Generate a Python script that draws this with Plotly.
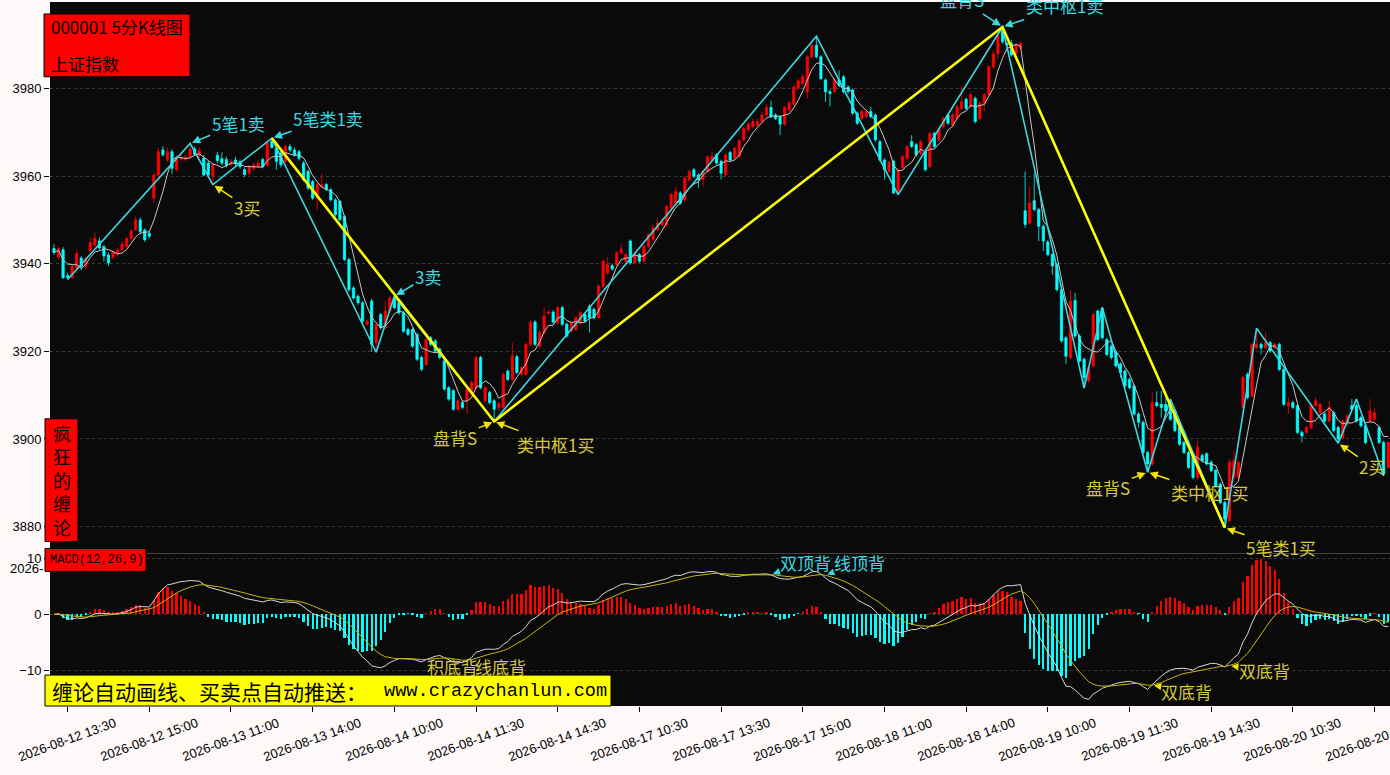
import pandas as pd
import plotly.graph_objects as go
from plotly.subplots import make_subplots

# 5 minute bars, index 0 = 2026-08-12 13:15
opens = [
    3943.5, 3941.5, 3943.2, 3937.3, 3936.9, 3939.0, 3941.3, 3939.4, 3943.0, 3944.3,
    3945.2, 3943.9, 3942.0, 3941.5, 3942.2, 3943.3, 3944.0, 3945.8, 3947.8, 3950.0,
    3947.7, 3947.0, 3955.0, 3960.3, 3966.0, 3963.8, 3965.6, 3961.5, 3963.9, 3963.8,
    3964.5, 3966.2, 3964.8, 3964.1, 3963.0, 3960.0, 3964.8, 3964.0, 3963.8, 3962.6,
    3963.7, 3963.3, 3961.5, 3960.7, 3961.8, 3962.3, 3963.8, 3962.5, 3968.0, 3966.4,
    3965.3, 3963.4, 3966.8, 3966.0, 3965.6, 3963.0, 3961.1, 3958.8, 3955.0, 3957.7,
    3958.1, 3956.9, 3954.6, 3954.3, 3950.8, 3941.0, 3934.5, 3932.6, 3931.1, 3926.2,
    3931.5, 3922.0, 3928.4, 3925.4, 3929.2, 3932.2, 3931.1, 3928.8, 3925.0, 3925.0,
    3923.9, 3918.6, 3917.0, 3923.1, 3922.4, 3920.5, 3917.8, 3911.7, 3911.0, 3906.8,
    3908.3, 3908.7, 3910.2, 3911.7, 3918.6, 3908.7, 3910.6, 3908.7, 3907.2, 3907.2,
    3915.5, 3913.6, 3918.8, 3914.8, 3914.8, 3921.6, 3926.7, 3921.2, 3924.3, 3928.7,
    3929.0, 3926.5, 3930.0, 3926.2, 3924.7, 3925.0, 3926.5, 3928.4, 3930.3, 3929.6,
    3927.7, 3934.9, 3937.9, 3939.6, 3939.8, 3942.5, 3940.6, 3945.2, 3940.2, 3942.1,
    3940.6, 3944.0, 3945.5, 3947.8, 3948.9, 3948.9, 3952.7, 3953.9, 3956.2, 3954.6,
    3959.2, 3961.5, 3960.3, 3959.2, 3961.1, 3963.7, 3964.9, 3963.4, 3960.3, 3965.4,
    3964.1, 3964.5, 3968.3, 3970.6, 3971.3, 3971.7, 3972.5, 3974.0, 3975.7, 3974.0,
    3973.6, 3971.9, 3975.1, 3976.5, 3980.1, 3981.2, 3979.3, 3987.3, 3989.9, 3987.3,
    3982.0, 3979.3, 3979.3, 3982.0, 3982.7, 3980.4, 3979.7, 3974.4, 3973.2, 3973.6,
    3974.8, 3974.0, 3967.9, 3963.7, 3961.1, 3963.4, 3956.2, 3961.9, 3964.1, 3967.9,
    3967.2, 3965.2, 3965.6, 3962.2, 3969.8, 3968.3, 3971.3, 3974.0, 3971.7, 3973.2,
    3975.5, 3977.6, 3975.9, 3977.8, 3973.2, 3976.7, 3978.6, 3985.0, 3988.0, 3993.4,
    3990.3, 3990.3, 3988.0, 3989.3, 3952.1, 3949.3, 3954.4, 3952.4, 3948.6, 3945.0,
    3942.1, 3939.8, 3934.1, 3923.1, 3918.6, 3931.6, 3923.5, 3918.2, 3913.3, 3916.7,
    3929.2, 3929.8, 3922.7, 3921.2, 3919.7, 3917.1, 3915.5, 3913.6, 3912.1, 3905.7,
    3903.8, 3896.9, 3894.3, 3908.3, 3907.9, 3907.9, 3908.7, 3906.4, 3902.6, 3899.2,
    3896.9, 3896.6, 3891.2, 3896.2, 3896.6, 3894.7, 3892.8, 3889.7, 3885.5, 3881.4,
    3891.2, 3891.2, 3907.2, 3914.8, 3909.8, 3920.8, 3921.6, 3920.8, 3922.0, 3920.8,
    3921.6, 3915.9, 3907.6, 3908.3, 3907.6, 3901.5, 3901.5, 3902.6, 3907.6, 3906.0,
    3905.7, 3904.1, 3906.0, 3902.6, 3900.3, 3903.4, 3907.6, 3907.6, 3904.9, 3903.0,
    3904.1, 3904.5, 3902.6, 3899.2, 3893.5,
]
highs = [
    3944.5, 3944.0, 3943.8, 3938.0, 3939.8, 3943.2, 3941.8, 3941.5, 3946.0, 3947.2,
    3946.0, 3944.4, 3942.6, 3943.3, 3943.6, 3945.2, 3946.2, 3948.0, 3950.8, 3950.6,
    3948.1, 3947.3, 3960.8, 3966.5, 3966.9, 3966.5, 3966.2, 3964.8, 3964.9, 3965.0,
    3967.5, 3966.8, 3966.6, 3964.8, 3963.5, 3963.2, 3965.6, 3965.5, 3964.5, 3964.0,
    3964.5, 3963.8, 3962.0, 3962.6, 3963.1, 3963.6, 3964.2, 3968.0, 3968.7, 3966.8,
    3965.8, 3967.2, 3967.4, 3966.6, 3966.0, 3963.5, 3961.5, 3959.2, 3958.6, 3960.7,
    3958.5, 3957.3, 3955.0, 3954.6, 3951.2, 3941.4, 3934.9, 3933.0, 3931.5, 3927.3,
    3932.0, 3926.6, 3928.8, 3931.5, 3932.6, 3932.6, 3931.5, 3929.2, 3925.4, 3925.4,
    3924.3, 3919.0, 3923.1, 3923.5, 3922.8, 3920.9, 3918.2, 3912.1, 3911.4, 3909.1,
    3908.7, 3911.8, 3913.3, 3919.0, 3919.0, 3912.1, 3911.0, 3909.1, 3908.4, 3915.2,
    3915.9, 3922.0, 3919.2, 3916.7, 3922.0, 3927.1, 3927.1, 3924.8, 3930.0, 3929.4,
    3929.4, 3930.4, 3930.4, 3926.6, 3926.9, 3928.1, 3929.2, 3928.8, 3930.7, 3930.0,
    3935.3, 3941.0, 3941.5, 3940.0, 3942.9, 3944.5, 3942.5, 3945.6, 3942.5, 3942.5,
    3944.4, 3947.1, 3949.0, 3950.4, 3950.5, 3953.5, 3956.2, 3957.6, 3956.6, 3960.0,
    3961.5, 3961.9, 3960.7, 3961.5, 3964.8, 3965.6, 3965.3, 3963.8, 3965.3, 3965.8,
    3966.8, 3968.5, 3971.3, 3972.3, 3973.2, 3973.2, 3974.8, 3976.5, 3977.3, 3974.4,
    3974.0, 3976.1, 3977.2, 3980.8, 3982.4, 3983.4, 3987.7, 3990.3, 3992.0, 3987.7,
    3982.4, 3979.8, 3982.4, 3984.2, 3983.1, 3980.8, 3980.1, 3974.8, 3975.2, 3975.2,
    3975.9, 3974.4, 3968.3, 3964.1, 3963.6, 3963.8, 3962.0, 3964.9, 3967.2, 3969.4,
    3967.6, 3968.3, 3966.0, 3970.2, 3970.2, 3971.3, 3973.6, 3974.4, 3974.4, 3976.3,
    3980.5, 3978.0, 3979.3, 3978.2, 3977.1, 3979.0, 3985.4, 3988.8, 3992.6, 3994.1,
    3990.7, 3991.1, 3990.4, 3990.7, 3961.1, 3957.7, 3960.7, 3952.8, 3949.0, 3945.4,
    3942.5, 3940.2, 3934.5, 3923.5, 3934.1, 3933.4, 3923.9, 3918.6, 3916.7, 3928.8,
    3929.6, 3930.1, 3923.1, 3921.6, 3920.1, 3917.5, 3915.9, 3914.0, 3912.5, 3906.1,
    3904.2, 3897.3, 3910.6, 3910.9, 3911.0, 3911.0, 3909.1, 3906.8, 3903.0, 3899.6,
    3897.3, 3897.0, 3899.6, 3896.6, 3897.0, 3895.1, 3893.2, 3890.1, 3885.9, 3895.5,
    3897.3, 3895.1, 3914.4, 3915.2, 3922.0, 3925.3, 3922.0, 3924.3, 3922.4, 3922.0,
    3922.0, 3916.3, 3909.5, 3908.7, 3908.0, 3901.9, 3903.0, 3908.0, 3909.5, 3908.3,
    3906.1, 3908.7, 3906.4, 3903.0, 3904.5, 3905.7, 3909.1, 3908.0, 3905.3, 3903.4,
    3909.1, 3907.2, 3903.0, 3899.6, 3899.6,
]
lows = [
    3942.0, 3941.0, 3936.6, 3936.4, 3936.6, 3938.8, 3938.5, 3938.8, 3942.5, 3943.8,
    3943.2, 3940.5, 3939.5, 3941.0, 3941.6, 3942.8, 3943.5, 3945.3, 3947.5, 3946.7,
    3945.0, 3945.8, 3953.9, 3959.5, 3964.5, 3963.3, 3960.5, 3961.0, 3963.5, 3963.3,
    3964.0, 3964.6, 3964.3, 3960.0, 3959.6, 3958.1, 3963.0, 3962.5, 3962.0, 3962.2,
    3962.3, 3961.7, 3959.8, 3960.2, 3961.2, 3961.9, 3961.8, 3962.2, 3966.3, 3961.5,
    3962.0, 3963.0, 3965.5, 3964.5, 3963.6, 3958.8, 3956.8, 3954.6, 3952.4, 3957.3,
    3956.6, 3954.2, 3950.8, 3949.7, 3940.6, 3933.6, 3931.8, 3930.6, 3926.4, 3925.8,
    3919.9, 3919.8, 3925.0, 3925.0, 3928.8, 3929.6, 3928.4, 3924.2, 3923.5, 3920.8,
    3917.8, 3915.5, 3916.6, 3921.2, 3919.7, 3918.2, 3911.0, 3908.7, 3906.4, 3906.4,
    3906.8, 3905.7, 3909.8, 3911.3, 3911.3, 3908.3, 3907.9, 3904.0, 3906.5, 3906.8,
    3913.2, 3913.2, 3914.8, 3914.4, 3914.4, 3921.2, 3921.2, 3920.8, 3923.9, 3928.4,
    3926.3, 3926.1, 3925.8, 3923.1, 3924.3, 3924.6, 3926.1, 3926.5, 3924.3, 3927.3,
    3927.3, 3934.5, 3937.5, 3938.4, 3939.4, 3942.1, 3940.2, 3939.8, 3939.8, 3940.2,
    3940.2, 3943.6, 3945.1, 3947.4, 3948.5, 3948.5, 3952.3, 3953.5, 3953.5, 3954.2,
    3958.8, 3959.6, 3957.3, 3957.6, 3960.7, 3963.3, 3962.6, 3959.3, 3959.9, 3963.3,
    3963.7, 3964.1, 3967.9, 3970.2, 3970.9, 3971.3, 3972.1, 3973.6, 3973.2, 3972.8,
    3969.4, 3971.5, 3974.7, 3976.1, 3979.7, 3980.8, 3977.8, 3986.9, 3986.9, 3981.9,
    3977.0, 3975.9, 3978.9, 3980.4, 3978.9, 3978.9, 3974.0, 3971.7, 3972.8, 3973.2,
    3973.2, 3967.9, 3963.3, 3959.2, 3960.7, 3955.9, 3955.8, 3961.5, 3963.7, 3966.4,
    3964.5, 3964.8, 3961.1, 3961.8, 3966.4, 3967.9, 3970.9, 3971.7, 3971.3, 3972.8,
    3975.1, 3975.1, 3975.5, 3972.1, 3972.8, 3974.8, 3978.2, 3984.6, 3986.9, 3990.3,
    3989.6, 3987.3, 3987.6, 3988.9, 3948.2, 3948.9, 3952.0, 3945.2, 3942.9, 3941.7,
    3937.5, 3933.7, 3922.0, 3917.1, 3918.2, 3923.1, 3917.4, 3911.6, 3912.9, 3916.3,
    3922.3, 3922.7, 3918.9, 3918.2, 3916.3, 3914.0, 3911.7, 3911.3, 3905.3, 3902.6,
    3896.5, 3892.4, 3893.9, 3907.2, 3904.9, 3906.0, 3904.1, 3901.5, 3898.4, 3896.5,
    3893.1, 3890.8, 3890.8, 3894.6, 3893.9, 3892.4, 3888.9, 3885.1, 3879.7, 3881.0,
    3890.8, 3890.8, 3906.8, 3909.1, 3909.4, 3920.4, 3919.3, 3920.4, 3919.7, 3920.4,
    3915.5, 3907.5, 3905.7, 3906.8, 3901.1, 3899.2, 3901.1, 3902.2, 3907.2, 3905.6,
    3903.7, 3903.7, 3901.5, 3899.0, 3899.9, 3903.0, 3906.4, 3903.7, 3902.6, 3898.8,
    3903.7, 3904.1, 3898.8, 3891.6, 3893.1,
]
closes = [
    3942.6, 3943.5, 3936.8, 3936.9, 3939.4, 3942.3, 3939.4, 3941.2, 3944.8, 3945.8,
    3943.6, 3941.8, 3940.2, 3942.7, 3943.1, 3944.4, 3945.8, 3947.5, 3950.0, 3947.4,
    3945.5, 3946.3, 3960.3, 3965.6, 3964.9, 3965.6, 3961.8, 3964.2, 3964.3, 3964.4,
    3966.2, 3965.0, 3965.8, 3960.3, 3960.3, 3962.6, 3963.6, 3963.0, 3962.5, 3963.3,
    3962.8, 3962.2, 3960.4, 3962.2, 3962.6, 3963.0, 3962.2, 3967.6, 3966.6, 3963.4,
    3962.6, 3966.8, 3966.0, 3964.9, 3964.1, 3959.2, 3957.3, 3955.0, 3958.1, 3958.0,
    3957.0, 3954.6, 3951.2, 3950.1, 3941.0, 3934.1, 3932.2, 3931.1, 3926.9, 3926.9,
    3921.6, 3926.2, 3925.4, 3929.2, 3932.2, 3930.0, 3928.8, 3924.6, 3923.9, 3921.2,
    3918.2, 3915.9, 3922.7, 3921.6, 3920.1, 3918.6, 3911.4, 3909.1, 3906.8, 3908.7,
    3907.2, 3911.4, 3912.9, 3918.6, 3911.7, 3911.7, 3908.3, 3906.8, 3908.0, 3914.8,
    3913.6, 3919.0, 3915.2, 3916.3, 3921.6, 3926.7, 3921.6, 3924.4, 3928.1, 3929.0,
    3926.7, 3930.0, 3926.2, 3923.5, 3926.5, 3927.7, 3928.8, 3926.9, 3927.7, 3927.7,
    3934.9, 3940.6, 3939.8, 3938.8, 3942.5, 3943.3, 3942.1, 3940.2, 3942.1, 3940.6,
    3944.0, 3946.7, 3948.2, 3949.3, 3949.7, 3953.1, 3955.8, 3956.5, 3953.9, 3959.6,
    3961.1, 3960.0, 3959.2, 3961.1, 3964.4, 3964.5, 3963.0, 3960.7, 3964.9, 3963.7,
    3966.4, 3968.1, 3970.9, 3971.9, 3972.5, 3972.5, 3974.0, 3975.7, 3973.6, 3973.2,
    3971.9, 3975.7, 3976.8, 3980.4, 3981.8, 3982.7, 3987.3, 3989.9, 3987.3, 3982.3,
    3979.3, 3978.9, 3982.0, 3980.8, 3979.3, 3979.3, 3974.4, 3972.1, 3974.8, 3974.8,
    3973.6, 3968.3, 3963.7, 3961.5, 3963.2, 3956.2, 3961.5, 3964.5, 3966.8, 3966.8,
    3964.9, 3967.9, 3961.5, 3969.8, 3966.8, 3970.9, 3973.2, 3972.1, 3974.0, 3975.9,
    3977.0, 3975.5, 3978.6, 3972.5, 3976.7, 3978.6, 3985.0, 3988.0, 3992.2, 3990.7,
    3990.0, 3987.7, 3990.0, 3990.3, 3949.0, 3953.9, 3952.4, 3948.6, 3945.2, 3942.1,
    3939.5, 3934.1, 3922.4, 3918.9, 3931.5, 3923.5, 3917.8, 3914.0, 3916.3, 3928.4,
    3922.7, 3923.1, 3919.3, 3918.6, 3916.7, 3915.2, 3912.1, 3911.7, 3905.7, 3903.8,
    3896.9, 3894.3, 3908.3, 3907.6, 3907.2, 3906.4, 3904.5, 3901.9, 3898.8, 3896.9,
    3893.5, 3891.2, 3898.1, 3895.0, 3894.3, 3892.8, 3889.3, 3885.5, 3881.7, 3894.7,
    3895.0, 3894.7, 3914.0, 3909.5, 3921.6, 3921.6, 3920.8, 3922.0, 3920.1, 3921.6,
    3915.9, 3907.9, 3908.3, 3907.2, 3901.5, 3900.7, 3902.6, 3907.6, 3908.7, 3907.9,
    3904.1, 3907.2, 3901.9, 3900.0, 3904.1, 3905.3, 3906.8, 3904.1, 3903.0, 3899.2,
    3906.4, 3906.0, 3899.2, 3892.0, 3899.2,
]

# bi (cyan) and segment (yellow) turning points: bar index, price
bi_idx = [3, 30, 35, 48, 71, 75, 97, 168, 186, 209, 227, 231, 241, 246, 258, 265, 283, 287, 293]
bi_val = [3936.4, 3967.5, 3958.1, 3968.7, 3919.8, 3932.6, 3904.0, 3992.0, 3955.8, 3994.1,
          3911.6, 3930.1, 3892.4, 3909.1, 3879.7, 3925.3, 3899.0, 3909.1, 3891.6]
seg_idx = [48, 97, 209, 258]
seg_val = [3968.7, 3904.0, 3994.1, 3879.7]

tick_idx = [3, 21, 39, 57, 75, 93, 111, 129, 147, 165, 183, 201, 219, 237, 255, 273, 291]
tick_labels = [
    "2026-08-12 13:30", "2026-08-12 15:00", "2026-08-13 11:00", "2026-08-13 14:00",
    "2026-08-14 10:00", "2026-08-14 11:30", "2026-08-14 14:30", "2026-08-17 10:30",
    "2026-08-17 13:30", "2026-08-17 15:00", "2026-08-18 11:00", "2026-08-18 14:00",
    "2026-08-19 10:00", "2026-08-19 11:30", "2026-08-19 14:30", "2026-08-20 10:30",
    "2026-08-20 13:30",
]

CJK = "Noto Sans CJK SC"
RED = "#ff0000"
CYAN = "#00ffff"
BI_C = "#3cd8e0"
TXT_Y = "#d6c83a"
ARR_Y = "#f0e400"

idx = list(range(len(closes)))
close = pd.Series(closes)
ma5 = close.rolling(5, min_periods=1).mean()
ema12 = close.ewm(span=12, adjust=False).mean()
ema26 = close.ewm(span=26, adjust=False).mean()
dif = ema12 - ema26
dea = dif.ewm(span=9, adjust=False).mean()
hist = 2 * (dif - dea)

fig = make_subplots(rows=2, cols=1, shared_xaxes=True, vertical_spacing=0,
                    row_heights=[553 / 706, 153 / 706])

fig.add_trace(go.Candlestick(
    x=idx, open=opens, high=highs, low=lows, close=closes,
    increasing=dict(line=dict(color=RED, width=0.8), fillcolor=RED),
    decreasing=dict(line=dict(color=CYAN, width=0.8), fillcolor=CYAN),
    whiskerwidth=0, hoverinfo="skip"), row=1, col=1)
fig.add_trace(go.Scatter(x=idx, y=ma5, mode="lines",
                         line=dict(color="#c8c8c8", width=1), hoverinfo="skip"), row=1, col=1)
fig.add_trace(go.Scatter(x=bi_idx, y=bi_val, mode="lines",
                         line=dict(color=BI_C, width=1.6), hoverinfo="skip"), row=1, col=1)
fig.add_trace(go.Scatter(x=seg_idx, y=seg_val, mode="lines",
                         line=dict(color="#ffff00", width=2.6), hoverinfo="skip"), row=1, col=1)

fig.add_trace(go.Bar(x=idx, y=hist, width=0.5,
                     marker=dict(color=[RED if h >= 0 else CYAN for h in hist], line=dict(width=0)),
                     hoverinfo="skip"), row=2, col=1)
fig.add_trace(go.Scatter(x=idx, y=dif, mode="lines",
                         line=dict(color="#d8d8d8", width=1), hoverinfo="skip"), row=2, col=1)
fig.add_trace(go.Scatter(x=idx, y=dea, mode="lines",
                         line=dict(color="#c8b414", width=1), hoverinfo="skip"), row=2, col=1)

# signal labels: text, text x, text y, head x, head y, cyan?
price_notes = [
    ("5笔1卖", 40.6, 3972.0, 30, 3967.5, True),
    ("5笔类1卖", 60.4, 3973.2, 48, 3968.7, True),
    ("3买", 42.5, 3952.9, 35, 3958.1, False),
    ("3卖", 82.4, 3937.2, 75, 3932.6, True),
    ("盘背S", 88.4, 3900.3, 97, 3904.0, False),
    ("类中枢1买", 110.6, 3898.7, 97, 3904.0, False),
    ("盘背S", 200.1, 4000.3, 209, 3994.1, True),
    ("类中枢1卖", 222.6, 3998.9, 209, 3994.1, True),
    ("盘背S", 232.3, 3888.9, 241, 3892.4, False),
    ("类中枢1买", 254.6, 3887.7, 241, 3892.4, False),
    ("5笔类1买", 270.4, 3875.2, 258, 3879.7, False),
    ("2买", 290.5, 3893.7, 283, 3899.0, False),
]
macd_notes = [
    ("积底背", 87.9, -9.3, 82, False),
    ("线底背", 98.3, -9.3, 92, False),
    ("双顶背", 165.5, 9.3, 158, True),
    ("线顶背", 177.6, 9.3, 170, True),
    ("双底背", 249.5, -13.75, 242, False),
    ("双底背", 266.7, -10.0, 259, False),
]

for text, tx, ty, hx, hy, cyan in price_notes:
    fig.add_annotation(x=hx, y=hy, ax=tx, ay=ty, xref="x", yref="y", axref="x", ayref="y",
                       text=text, showarrow=True, arrowhead=2, arrowsize=1.1, arrowwidth=1.5,
                       arrowcolor=BI_C if cyan else ARR_Y, standoff=2,
                       font=dict(family=CJK, size=17, color=BI_C if cyan else TXT_Y))
for text, tx, ty, hx, cyan in macd_notes:
    fig.add_annotation(x=hx, y=float(dea[hx]), ax=tx, ay=ty, xref="x2", yref="y2",
                       axref="x2", ayref="y2",
                       text=text, showarrow=True, arrowhead=2, arrowsize=1.1, arrowwidth=1.3,
                       arrowcolor=BI_C if cyan else ARR_Y, standoff=2,
                       font=dict(family=CJK, size=17, color=BI_C if cyan else TXT_Y))

# pixel -> paper helpers for the label boxes
W, H, ML, MB = 1390, 775, 50, 69
PW, PH = W - ML, H - MB


def px(x):
    return (x - ML) / PW


def py(y):
    return (H - MB - y) / PH


def box(x0, y0, x1, y1, color):
    fig.add_shape(type="rect", xref="paper", yref="paper", x0=px(x0), x1=px(x1),
                  y0=py(y1), y1=py(y0), fillcolor=color, line=dict(color="#000000", width=1),
                  layer="above")


def label(text, x, y, size, family=CJK, anchor="left"):
    fig.add_annotation(xref="paper", yref="paper", x=px(x), y=py(y), text=text,
                       showarrow=False, xanchor=anchor, yanchor="middle",
                       font=dict(family=family, size=size, color="#000000"))


box(44, 12, 190, 75, RED)
label("000001 5分K线图", 49, 25, 17)
label("上证指数", 49, 62, 17)

box(45, 418, 78, 541, RED)
label("<br>".join("疯狂的缠论"), 62, 479, 18, anchor="center")

box(45, 548, 146, 571, RED)
label("MACD(12,26,9)", 48, 560, 12, family="Liberation Mono")

box(45, 675, 611, 706, "#ffff00")
label("缠论自动画线、买卖点自动推送：", 50, 691, 21)
label("www.crazychanlun.com", 382, 691, 18.6, family="Liberation Mono")

label("2026-", 45, 568, 13, family="Liberation Sans", anchor="right")

# x tick labels centred under the ticks, like the source chart
for t, lab in zip(tick_idx, tick_labels):
    fig.add_annotation(x=t, xref="x2", yref="paper", y=py(740), text=lab, showarrow=False,
                       textangle=-20, xanchor="center", yanchor="middle",
                       font=dict(family="Liberation Sans", size=13, color="#000000"))

axis_font = dict(family="Liberation Sans", size=13, color="#000000")
fig.update_layout(
    width=1390, height=775,
    margin=dict(l=50, r=0, t=0, b=69),
    paper_bgcolor="#fdf9f8",
    plot_bgcolor="#0a0a0a",
    showlegend=False,
    bargap=0,
)
fig.update_xaxes(range=[-0.88, 294.4], showgrid=False, zeroline=False,
                 rangeslider=dict(visible=False), showline=False)
fig.update_xaxes(showticklabels=False, ticks="", row=1, col=1)
fig.update_xaxes(tickvals=tick_idx, showticklabels=False,
                 ticks="outside", ticklen=5, tickcolor="#000000", row=2, col=1)
fig.update_yaxes(range=[3873.85, 3999.8], tickvals=[3880, 3900, 3920, 3940, 3960, 3980],
                 row=1, col=1)
fig.update_yaxes(range=[-16.43, 10.89], tickvals=[-10, 0, 10], row=2, col=1)
fig.update_yaxes(showgrid=True, gridcolor="#3a3a3a", griddash="dot", gridwidth=1,
                 zeroline=False, ticks="outside", ticklen=5, tickcolor="#000000",
                 tickfont=axis_font, showline=False)

fig.write_html("out.html", config={"displayModeBar": False},
               post_script="document.body.style.margin='0';"
                           "document.body.style.overflow='hidden';")
